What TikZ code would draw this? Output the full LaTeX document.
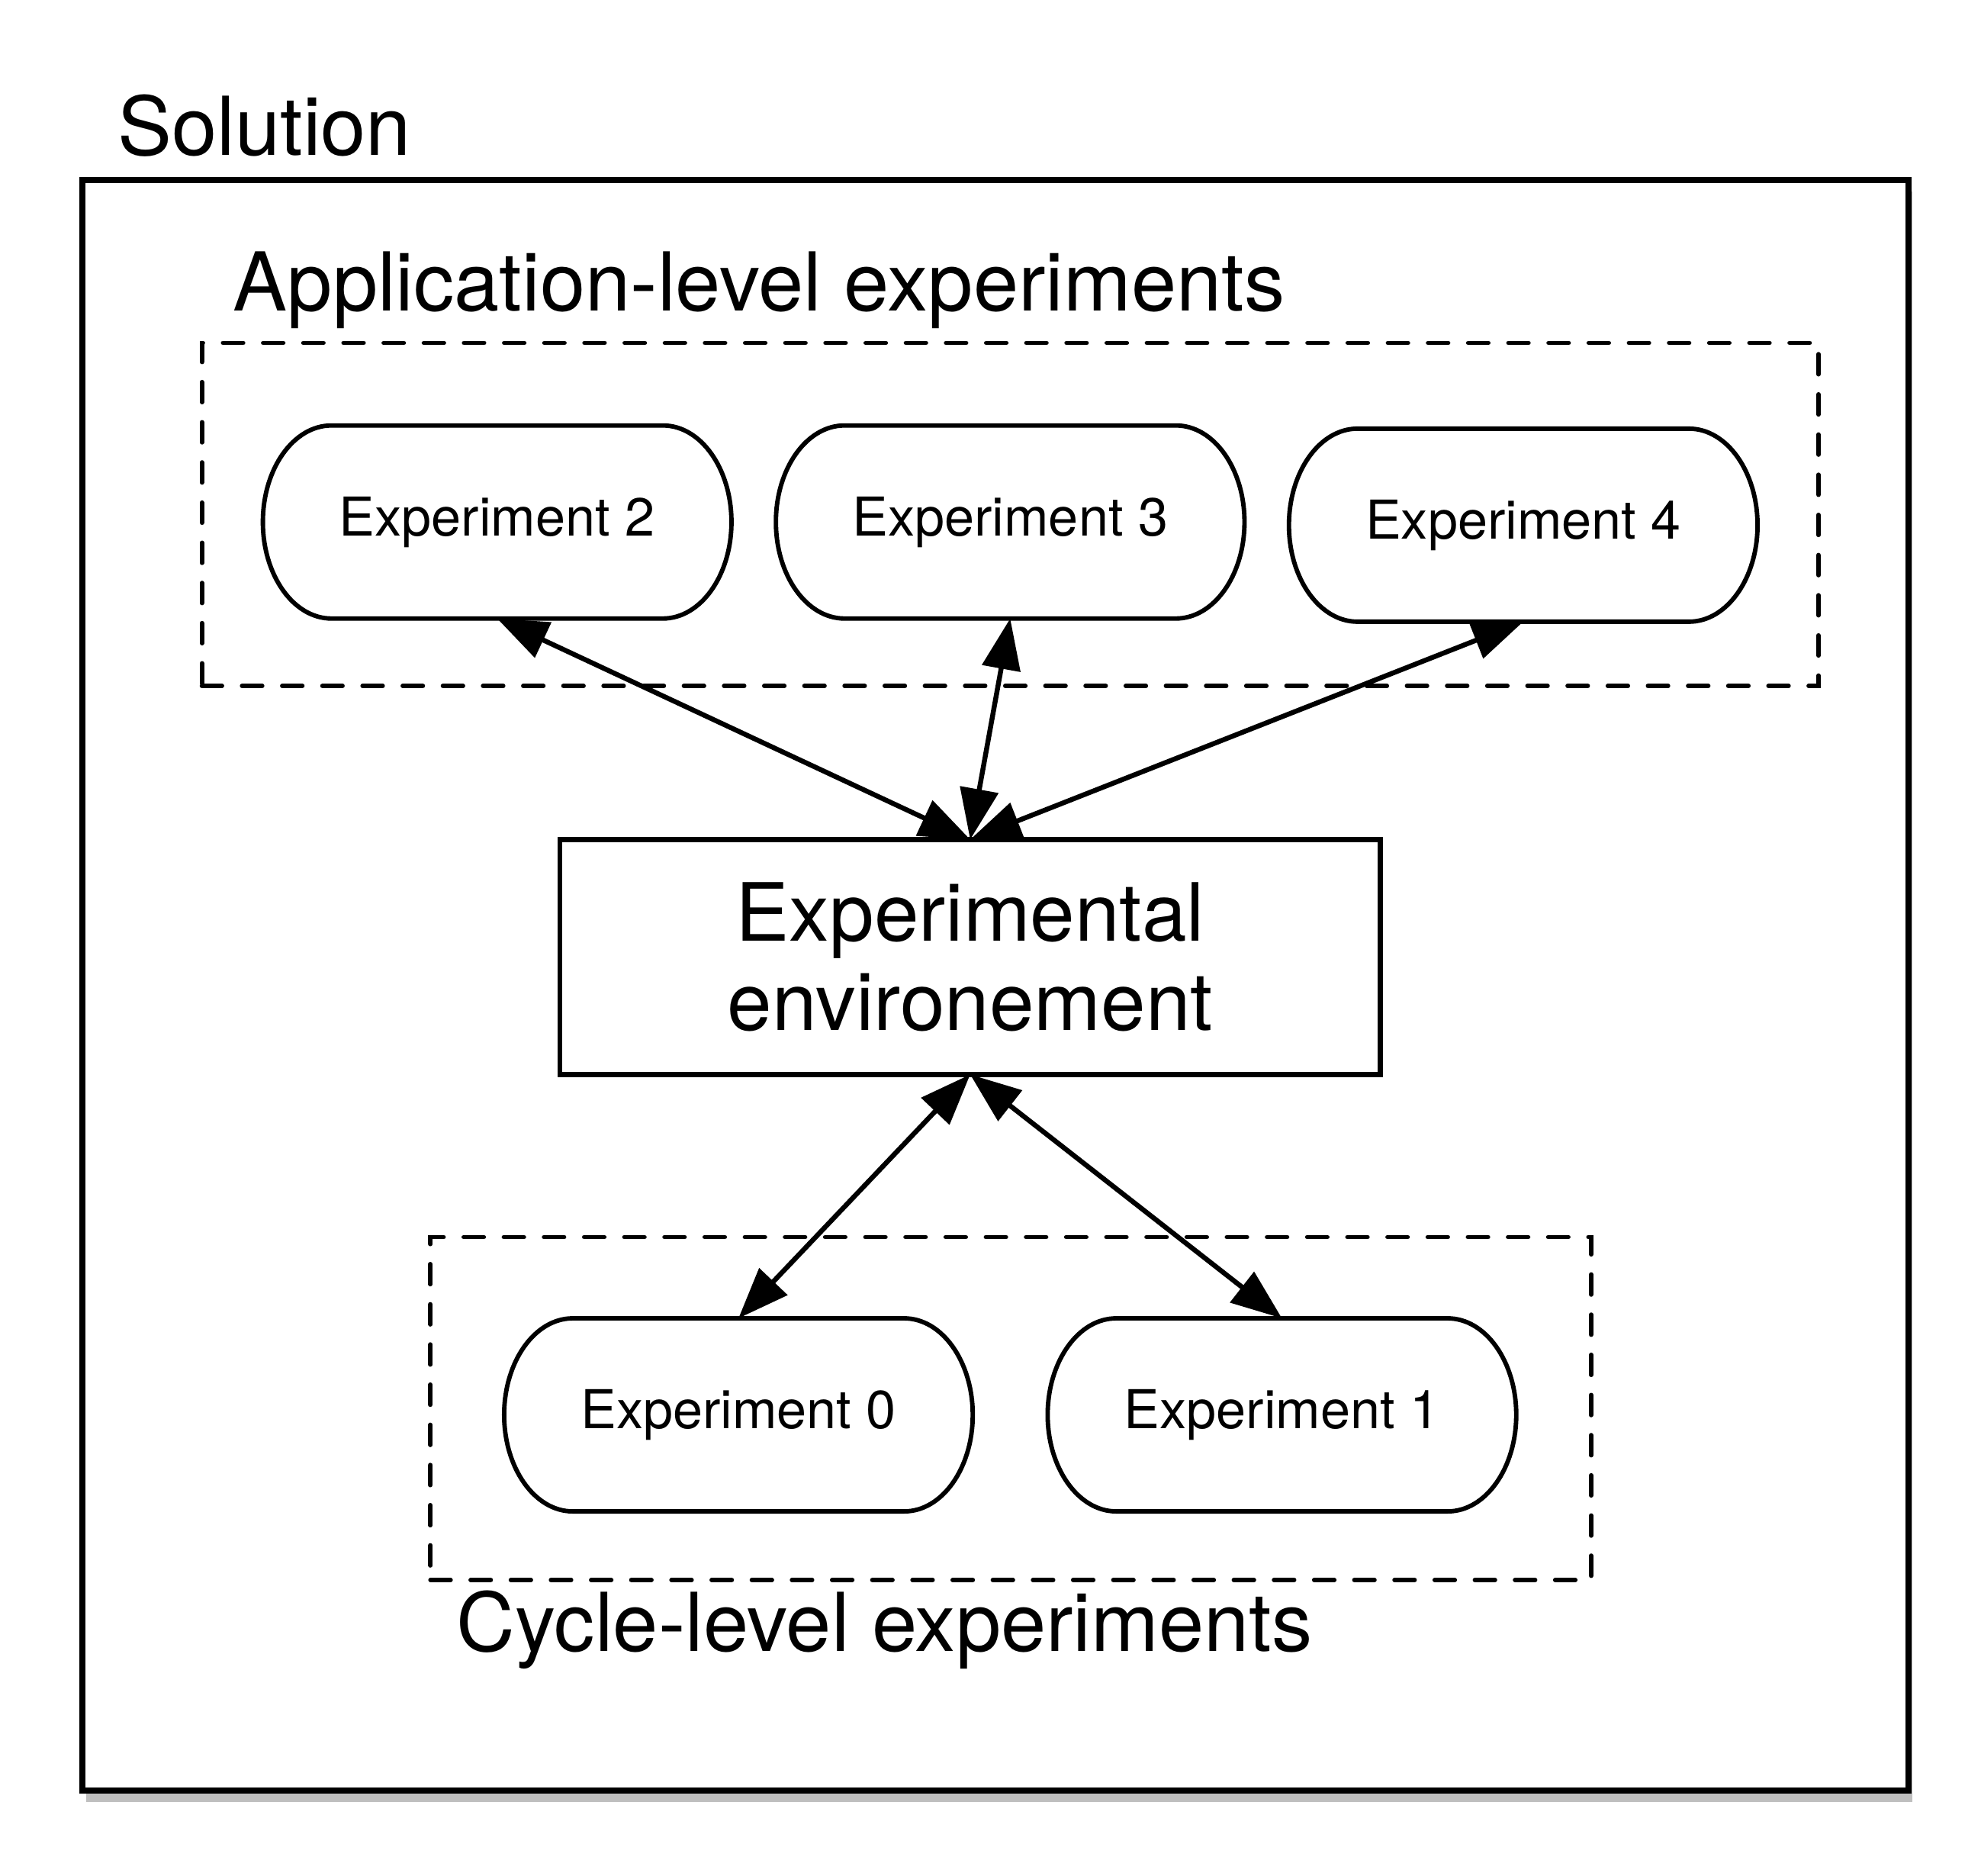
\documentclass[tikz,border=0pt]{standalone}
\usepackage{fontspec}
\setmainfont{TeX Gyre Heros}
\usetikzlibrary{arrows.meta,shadows}
\begin{document}
\begin{tikzpicture}[>={Triangle[length=4mm,width=3mm]},
  pill/.style={rectangle,draw=none,outer sep=0pt,minimum width=3.69cm,minimum height=1.52cm,font=\fontsize{12}{14}\selectfont},
  group/.style={rectangle,draw=black,line width=1pt,dash pattern=on 4.5pt off 4.5pt,line cap=round,outer sep=0pt},
  big/.style={font=\fontsize{18.2}{20}\selectfont}]
\useasboundingbox (0,0) rectangle (15.6,14.765);
\node (sol) at (7.84,7.005)[rectangle,draw=black,fill=white,line width=1.4pt,minimum width=14.38cm,minimum height=12.68cm,drop shadow={shadow xshift=0.03cm,shadow yshift=-0.09cm,opacity=0.5}]{};
\node (soltxt) at (0.92,13.545)[anchor=base west,inner sep=0pt,big]{Solution};

% application-level
\node (app) at (7.955,10.715)[group,minimum width=12.73cm,minimum height=2.70cm]{};
\node (apptxt) at (1.83,12.315)[anchor=base west,inner sep=0pt,big]{Application-level experiments};
\node (e2) at (3.915,10.655)[pill]{Experiment 2};
\node (e3) at (7.955,10.655)[pill]{Experiment 3};
\node (e4) at (11.995,10.63)[pill]{Experiment 4};

\node (env) at (7.64,7.23)[rectangle,draw=black,line width=1.1pt,outer sep=0pt,minimum width=6.46cm,minimum height=1.85cm,align=center,font=\fontsize{18}{20}\selectfont]{Experimental\\environement};

% cycle-level
\node (cyc) at (7.96,3.675)[group,minimum width=9.14cm,minimum height=2.70cm]{};
\node (cyctxt) at (3.59,1.765)[anchor=base west,inner sep=0pt,big]{Cycle-level experiments};
\node (e0) at (5.815,3.625)[pill]{Experiment 0};
\node (e1) at (10.095,3.625)[pill]{Experiment 1};

\foreach \n in {e0,e1,e2,e3,e4}
  \draw[line width=1pt] ([xshift=0.54cm]\n.north west) -- ([xshift=-0.54cm]\n.north east) arc[start angle=90,end angle=-90,x radius=0.54cm,y radius=0.76cm] -- ([xshift=0.54cm]\n.south west) arc[start angle=270,end angle=90,x radius=0.54cm,y radius=0.76cm] -- cycle;

\foreach \n in {e2,e3,e4}
  \draw[<->,line width=1.1pt](\n.south)--(env.north);
\foreach \n in {e0,e1}
  \draw[<->,line width=1.1pt](env.south)--(\n.north);
\end{tikzpicture}
\end{document}
